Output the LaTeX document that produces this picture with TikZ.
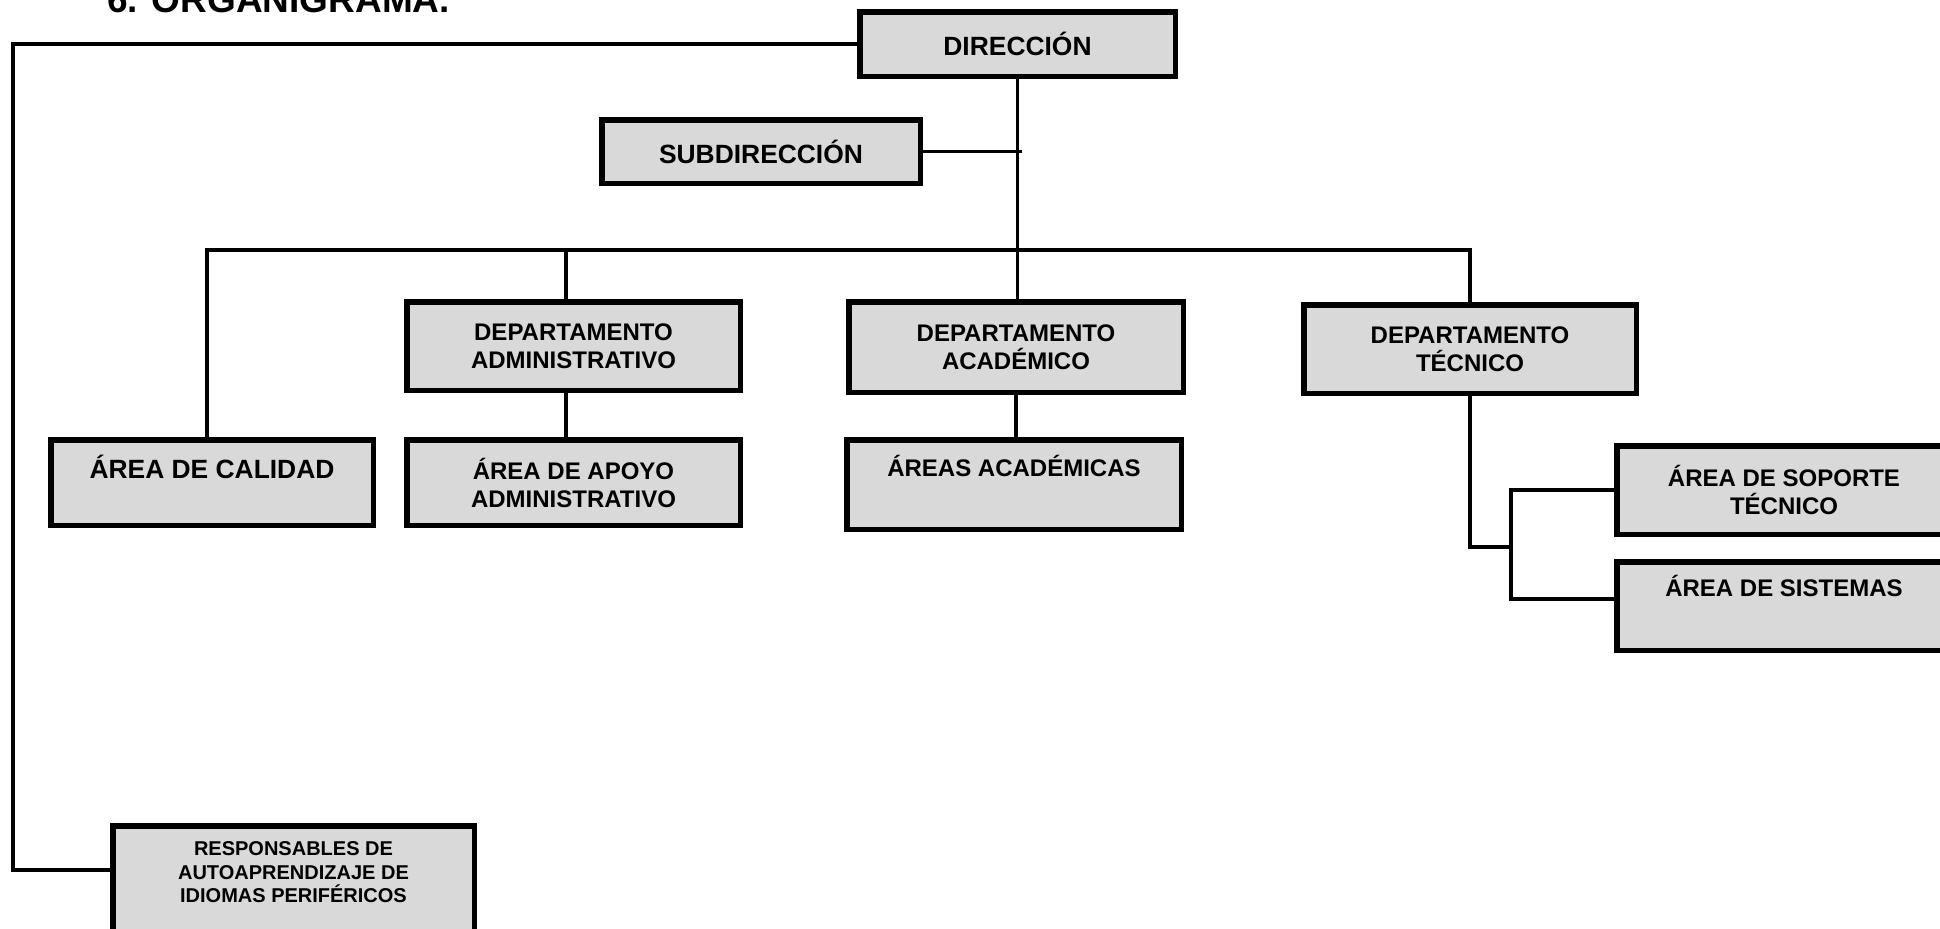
\documentclass[tikz,border=0pt]{standalone}
\usepackage{fontspec}
\setmainfont{Liberation Sans}
\definecolor{relleno}{RGB}{217,217,217}
\tikzset{
  caja/.style={draw=black, fill=relleno, line width=2.75pt, align=center, inner sep=2pt,
    font=\bfseries\fontsize{12}{14}\selectfont},
  grande/.style={font=\bfseries\fontsize{13.2}{16}\selectfont},
  enlace/.style={draw=black, line width=1.8pt},
}

\begin{document}
\begin{tikzpicture}[x=0.5pt,y=-0.5pt]
  \useasboundingbox (0,0) rectangle (1940,928);
  \node[anchor=base west, inner sep=0pt, font=\bfseries\fontsize{18.5}{22}\selectfont] (titulo) at (107,12) {6. ORGANIGRAMA.};

  \node[caja, grande, minimum width=157.75pt, minimum height=32.25pt] (direccion) at (1017.5,44) {DIRECCIÓN};
  \node[caja, grande, minimum width=159.25pt, minimum height=31.75pt] (subdireccion) at (761,151.5) {SUBDIRECCIÓN};

  \node[caja, minimum width=166.75pt, minimum height=44.25pt] (dadmin) at (573.5,346) {DEPARTAMENTO\\ADMINISTRATIVO};
  \node[caja, minimum width=167.25pt, minimum height=45.25pt] (dacad) at (1016,347) {DEPARTAMENTO\\ACADÉMICO};
  \node[caja, minimum width=166.25pt, minimum height=44.25pt] (dtec) at (1470,349) {DEPARTAMENTO\\TÉCNICO};

  \node[caja, grande, minimum width=161.25pt, minimum height=42.75pt, text height=9.5pt, text depth=13.5pt] (calidad) at (212,482.5) {ÁREA DE CALIDAD};
  \node[caja, minimum width=166.75pt, minimum height=42.75pt] (apoyo) at (573.5,482.5) {ÁREA DE APOYO\\ADMINISTRATIVO};
  \node[caja, minimum width=167.25pt, minimum height=44.75pt, text height=8.6pt, text depth=16.5pt] (areasacad) at (1014,484.5) {ÁREAS ACADÉMICAS};
  \node[caja, minimum width=167.25pt, minimum height=44.25pt] (soporte) at (1784,490) {ÁREA DE SOPORTE\\TÉCNICO};
  \node[caja, minimum width=167.25pt, minimum height=44.25pt, text height=8.6pt, text depth=18.5pt] (sistemas) at (1784,606) {ÁREA DE SISTEMAS};

  \node[caja, minimum width=180.75pt, minimum height=54.75pt, text depth=8pt, font=\bfseries\fontsize{10}{11.75}\selectfont] (responsables) at (293.5,880.5) {RESPONSABLES DE\\AUTOAPRENDIZAJE DE\\IDIOMAS PERIFÉRICOS};

  \coordinate (barra) at (0,250);
  \coordinate (izq) at (13,870);
  \coordinate (espina) at (1511,547);

  \draw[enlace] (direccion.west) -| (izq) -- (izq -| responsables.west);
  \draw[enlace] (direccion.south) -- (direccion.south |- dacad.north);
  \draw[enlace] (subdireccion.east) -- ([xshift=2pt]direccion.south |- subdireccion.east);
  \draw[enlace] ([xshift=-2.5pt]calidad.north) |- (barra -| dtec.north) -- (dtec.north);
  \draw[enlace] ([xshift=-3.75pt]dadmin.north) -- ([xshift=-3.75pt]dadmin.north |- barra);
  \draw[enlace] ([xshift=-3.75pt]dadmin.south) -- ([xshift=-3.75pt]apoyo.north);
  \draw[enlace] (dacad.south) -- (dacad.south |- areasacad.north);
  \draw[enlace] (dtec.south) |- (espina);
  \draw[enlace] (soporte.west) -| (espina) |- ([yshift=3.5pt]sistemas.west);
\end{tikzpicture}
\end{document}
